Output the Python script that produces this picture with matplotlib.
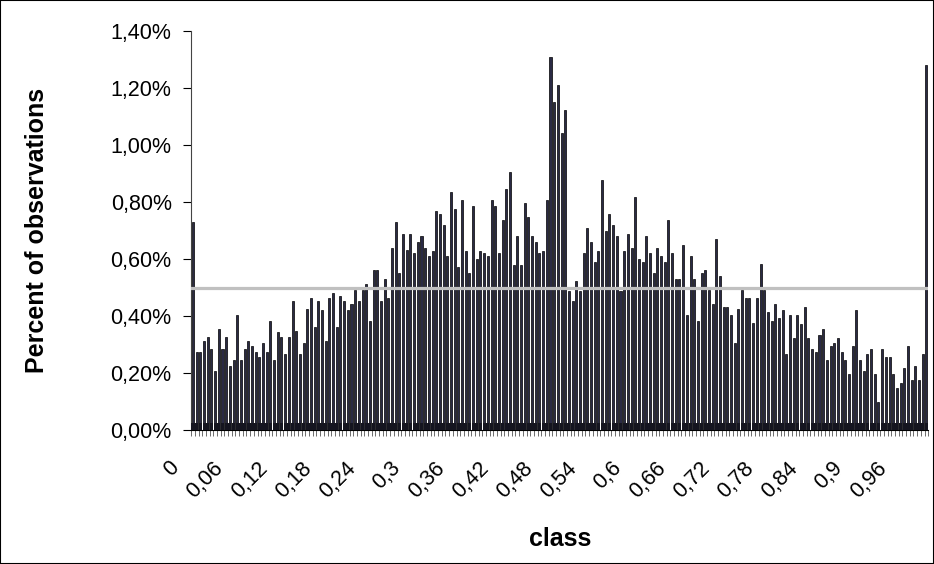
import numpy as np
import matplotlib
matplotlib.use("Agg")
import matplotlib.pyplot as plt
import matplotlib.transforms as mtransforms
from matplotlib.patches import Rectangle

plt.rcParams['font.family'] = ['Liberation Sans', 'DejaVu Sans']

# percent of observations per class (200 classes, step 0.005)
pct = [
    0.730, 0.276, 0.276, 0.314, 0.326, 0.285, 0.207, 0.355, 0.285, 0.326,
    0.227, 0.247, 0.405, 0.247, 0.285, 0.314, 0.296, 0.276, 0.256, 0.305,
    0.276, 0.383, 0.247, 0.345, 0.326, 0.267, 0.326, 0.454, 0.350, 0.267,
    0.305, 0.425, 0.463, 0.364, 0.454, 0.423, 0.314, 0.463, 0.483, 0.364,
    0.472, 0.454, 0.423, 0.443, 0.492, 0.454, 0.492, 0.512, 0.383, 0.562,
    0.562, 0.454, 0.532, 0.463, 0.641, 0.730, 0.552, 0.690, 0.632, 0.690,
    0.621, 0.661, 0.681, 0.641, 0.612, 0.630, 0.770, 0.759, 0.719, 0.611,
    0.837, 0.778, 0.572, 0.808, 0.630, 0.551, 0.788, 0.601, 0.630, 0.621,
    0.611, 0.808, 0.788, 0.621, 0.739, 0.847, 0.906, 0.581, 0.681, 0.581,
    0.798, 0.748, 0.681, 0.661, 0.621, 0.630, 0.808, 1.310, 1.153, 1.212,
    1.044, 1.123, 0.490, 0.454, 0.523, 0.490, 0.621, 0.710, 0.661, 0.591,
    0.630, 0.878, 0.699, 0.758, 0.719, 0.681, 0.490, 0.630, 0.689, 0.641,
    0.818, 0.601, 0.591, 0.681, 0.621, 0.552, 0.641, 0.610, 0.591, 0.739,
    0.621, 0.532, 0.532, 0.650, 0.405, 0.612, 0.532, 0.385, 0.552, 0.561,
    0.492, 0.443, 0.670, 0.541, 0.434, 0.434, 0.405, 0.306, 0.425, 0.492,
    0.463, 0.463, 0.375, 0.463, 0.582, 0.492, 0.414, 0.383, 0.443, 0.394,
    0.423, 0.267, 0.405, 0.325, 0.404, 0.374, 0.433, 0.325, 0.285, 0.276,
    0.334, 0.354, 0.247, 0.296, 0.305, 0.325, 0.276, 0.247, 0.198, 0.296,
    0.423, 0.247, 0.207, 0.267, 0.285, 0.198, 0.098, 0.285, 0.256, 0.256,
    0.198, 0.148, 0.167, 0.217, 0.296, 0.178, 0.227, 0.178, 0.267, 1.280,
]
base = [0.027] * len(pct)   # small second series along the axis
mean_line = 0.5

tick_pos = list(range(0, 200, 12))
tick_lbl = ['0', '0,06', '0,12', '0,18', '0,24', '0,3', '0,36', '0,42', '0,48',
            '0,54', '0,6', '0,66', '0,72', '0,78', '0,84', '0,9', '0,96']

fig = plt.figure(figsize=(9.34, 5.64), dpi=100)
ax = fig.add_axes([0.2047, 0.2371, 0.9938 - 0.2047, 0.9445 - 0.2371])

x = np.arange(len(pct))
ax.bar(x, pct, width=0.55, color='#2a2a44', edgecolor='black', linewidth=0.5, zorder=2)
ax.bar(x, base, width=0.85, color='#151520', edgecolor='none', zorder=3)
ax.axhline(mean_line, color='#c0c0c0', linewidth=2.3, zorder=4)

ax.set_xlim(-0.5, len(pct) - 0.5)
ax.set_ylim(0, 1.4)
ax.set_yticks(np.arange(0, 1.41, 0.2))
ax.set_yticklabels([('%.2f%%' % v).replace('.', ',') for v in np.arange(0, 1.41, 0.2)],
                   fontsize=15.5)
ax.set_xticks(tick_pos)
ax.set_xticklabels(tick_lbl, rotation=45, ha='right', va='center', fontsize=15.5,
                   rotation_mode='anchor')
ax.set_xticks(np.arange(-0.5, len(pct), 1), minor=True)
ax.tick_params(axis='x', which='major', length=0, pad=25)
ax.tick_params(axis='x', which='minor', length=4, width=0.6, color='#555555')
ax.tick_params(axis='y', length=6, width=0.8, pad=8)

# shift labels left so the end of each label sits just left of its class
# (after tick_params, which would reset the transform)
offset = mtransforms.ScaledTranslation(-0.17, 0, fig.dpi_scale_trans)
for lab in ax.get_xticklabels():
    lab.set_transform(lab.get_transform() + offset)

for s in ['top', 'right']:
    ax.spines[s].set_visible(False)
ax.spines['left'].set_color('#444444')
ax.spines['bottom'].set_color('black')

ax.set_ylabel('Percent of observations', fontsize=18, fontweight='bold', labelpad=44)
ax.set_xlabel('class', fontsize=18, fontweight='bold', labelpad=18)

fig.patches.append(Rectangle((0, 0), 1, 1, transform=fig.transFigure, fill=False,
                             edgecolor='black', linewidth=1.5))

fig.savefig('out.png', dpi=100)
